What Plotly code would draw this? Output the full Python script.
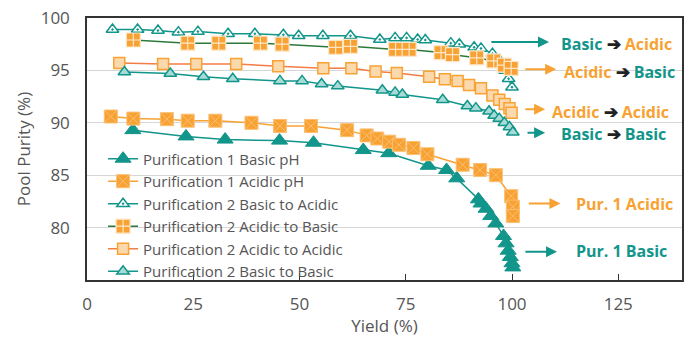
import plotly.graph_objects as go

TEAL = "#12958a"
ORANGE = "#f7a233"
GREEN = "#2b7a3b"
CORAL = "#f27d45"
GRAY = "#555555"

# Purification 1 Basic pH
p1b_x = [10.8, 23.3, 32.5, 45.3, 53.3, 65.0, 71.0, 80.3, 84.6, 87.0, 92.1, 92.7, 93.9, 95.0, 96.2,
         98.0, 98.6, 99.1, 99.6, 100.0, 100.2]
p1b_y = [89.3, 88.7, 88.4, 88.3, 88.1, 87.4, 87.1, 85.9, 85.5, 84.7, 82.7, 82.3, 81.8, 81.1, 80.4,
         79.2, 78.5, 77.8, 77.2, 76.6, 76.2]

# Purification 1 Acidic pH
p1a_x = [5.6, 10.9, 18.8, 23.7, 30.2, 38.7, 45.4, 52.7, 61.2, 65.8, 68.3, 71.1, 73.4, 76.8, 80.1,
         88.4, 92.5, 96.2, 99.8, 100.2, 100.2]
p1a_y = [90.6, 90.4, 90.35, 90.2, 90.2, 90.0, 89.7, 89.7, 89.3, 88.8, 88.5, 88.2, 87.9, 87.6, 87.0,
         86.0, 85.5, 85.0, 83.0, 82.0, 81.1]

# Purification 2 Basic to Acidic
ba_x = [6.0, 11.9, 16.7, 21.5, 26.1, 33.2, 39.5, 46.2, 49.8, 55.5, 62.0, 68.9, 72.5, 75.2, 77.8,
        79.6, 85.6, 87.6, 91.1, 92.7, 95.4, 97.0, 98.4, 99.2, 100.0]
ba_y = [98.9, 98.9, 98.8, 98.65, 98.7, 98.5, 98.5, 98.4, 98.3, 98.3, 98.3, 97.95, 98.1, 98.1, 97.95,
        97.9, 97.6, 97.5, 97.2, 97.1, 96.6, 96.0, 95.0, 94.2, 93.4]

# Purification 2 Acidic to Basic
ab_x = [10.9, 23.7, 31.0, 40.8, 45.9, 58.5, 62.0, 72.6, 75.8, 83.3, 86.0, 91.7, 95.7, 98.2, 99.8]
ab_y = [97.9, 97.6, 97.6, 97.6, 97.5, 97.2, 97.3, 97.0, 97.0, 96.7, 96.5, 96.2, 95.9, 95.5, 95.2]

# Purification 2 Acidic to Acidic
aa_x = [7.6, 17.9, 25.7, 35.1, 45.0, 55.6, 62.2, 67.9, 72.9, 80.5, 84.2, 87.2, 89.9, 92.7, 95.4,
        97.0, 98.3, 99.4, 99.9]
aa_y = [95.7, 95.6, 95.6, 95.6, 95.4, 95.2, 95.2, 94.9, 94.75, 94.4, 94.15, 94.0, 93.6, 93.3, 92.6,
        92.2, 91.8, 91.4, 90.95]

# Purification 2 Basic to Basic
bb_x = [8.8, 19.6, 27.4, 34.3, 45.4, 50.6, 55.2, 59.0, 69.5, 72.5, 74.2, 83.7, 89.5, 91.5, 94.6,
        95.8, 97.0, 98.2, 99.4, 100.2]
bb_y = [94.85, 94.7, 94.4, 94.2, 94.0, 94.0, 93.7, 93.5, 93.1, 92.9, 92.7, 92.2, 91.6, 91.4, 91.1,
        90.7, 90.4, 90.0, 89.6, 89.1]

x_ticks = [0, 25, 50, 75, 100, 125]
y_ticks = [80, 85, 90, 95, 100]

# annotation labels: (parts, arrow tail x, arrow head x, arrow y, text x, text y, arrow colour)
labels = [
    ([("Basic", TEAL), ("Acidic", ORANGE)], 94.8, 108.7, 97.7, 111.0, 97.6, TEAL),
    ([("Acidic", ORANGE), ("Basic", TEAL)], 102.8, 110.4, 95.1, 111.8, 94.9, ORANGE),
    ([("Acidic", ORANGE), ("Acidic", ORANGE)], 102.8, 107.8, 91.3, 109.0, 91.1, ORANGE),
    ([("Basic", TEAL), ("Basic", TEAL)], 103.3, 107.8, 89.05, 111.1, 89.0, TEAL),
]
pur_labels = [
    ("Pur. 1 Acidic", ORANGE, 103.6, 111.4, 82.3, 114.5, 82.3),
    ("Pur. 1 Basic", TEAL, 102.8, 110.6, 77.7, 114.5, 77.8),
]

fig = go.Figure()

fig.add_trace(go.Scatter(
    x=p1b_x, y=p1b_y, mode="lines+markers", name="Purification 1 Basic pH",
    line=dict(color=TEAL, width=1.5),
    marker=dict(symbol="triangle-up", size=14, color=TEAL, line=dict(color=TEAL, width=1))))
fig.add_trace(go.Scatter(
    x=p1a_x, y=p1a_y, mode="lines+markers", name="Purification 1 Acidic pH",
    line=dict(color=ORANGE, width=1.5),
    marker=dict(symbol="square-x", size=13, color=ORANGE, line=dict(color="#fbbf72", width=1))))
fig.add_trace(go.Scatter(
    x=ba_x, y=ba_y, mode="lines+markers", name="Purification 2 Basic to Acidic",
    line=dict(color=TEAL, width=1.5),
    marker=dict(symbol="triangle-up-dot", size=11, color="white", line=dict(color=TEAL, width=1.5))))
fig.add_trace(go.Scatter(
    x=ab_x, y=ab_y, mode="lines+markers", name="Purification 2 Acidic to Basic",
    line=dict(color=GREEN, width=1.5),
    marker=dict(symbol="square-cross", size=14, color=ORANGE, line=dict(color="#fde6c8", width=1.2))))
fig.add_trace(go.Scatter(
    x=aa_x, y=aa_y, mode="lines+markers", name="Purification 2 Acidic to Acidic",
    line=dict(color=CORAL, width=1.5),
    marker=dict(symbol="square", size=11, color="#fcd9ad", line=dict(color=ORANGE, width=1.5))))
fig.add_trace(go.Scatter(
    x=bb_x, y=bb_y, mode="lines+markers", name="Purification 2 Basic to Basic",
    line=dict(color=TEAL, width=1.5),
    marker=dict(symbol="triangle-up", size=11, color="#a8dbd6", line=dict(color=TEAL, width=1.5))))

ARROW = "<span style='color:#222222;font-size:17px'>➔</span>"
annotations = []
for parts, tail, head, ay, tx, ty, acol in labels:
    annotations.append(dict(x=head, y=ay, ax=tail, ay=ay, xref="x", yref="y", axref="x", ayref="y",
                            text="", showarrow=True, arrowhead=2, arrowsize=1.1, arrowwidth=2,
                            arrowcolor=acol))
    txt = ("<b><span style='color:%s'>%s</span> %s "
           "<span style='color:%s'>%s</span></b>") % (parts[0][1], parts[0][0], ARROW,
                                                      parts[1][1], parts[1][0])
    annotations.append(dict(x=tx, y=ty, xref="x", yref="y", text=txt, showarrow=False,
                            xanchor="left", yanchor="middle",
                            font=dict(family="Open Sans", size=16)))
for name, col, tail, head, ay, tx, ty in pur_labels:
    annotations.append(dict(x=head, y=ay, ax=tail, ay=ay, xref="x", yref="y", axref="x", ayref="y",
                            text="", showarrow=True, arrowhead=2, arrowsize=1.1, arrowwidth=2,
                            arrowcolor=col))
    annotations.append(dict(x=tx, y=ty, xref="x", yref="y", text="<b>%s</b>" % name, showarrow=False,
                            xanchor="left", yanchor="middle",
                            font=dict(family="Open Sans", size=16, color=col)))

fig.update_layout(
    width=689, height=337,
    margin=dict(l=87, r=7, t=18, b=57, autoexpand=False),
    paper_bgcolor="white", plot_bgcolor="white",
    font=dict(family="Open Sans", color=GRAY),
    showlegend=True,
    legend=dict(x=0.027, y=0.525, xanchor="left", yanchor="top", bgcolor="rgba(0,0,0,0)",
                font=dict(family="Open Sans", size=15, color=GRAY), borderwidth=0),
    annotations=annotations,
)
fig.update_xaxes(range=[0, 140], tickvals=x_ticks, ticktext=[str(v) for v in x_ticks],
                 showgrid=False, zeroline=False, showline=True, mirror=True, linecolor="#333333",
                 linewidth=1.5, ticks="inside", ticklen=6, tickcolor="#333333",
                 tickfont=dict(size=17, color=GRAY), ticklabelstandoff=8, automargin=False,
                 title=dict(text="Yield (%)", font=dict(size=17, color=GRAY), standoff=2))
fig.update_yaxes(range=[75, 100], tickvals=y_ticks, ticktext=[str(v) for v in y_ticks],
                 showgrid=True, gridcolor="#d6d6d6", gridwidth=1, zeroline=False, showline=True,
                 mirror=True, linecolor="#333333", linewidth=1.5, ticks="",
                 tickfont=dict(size=17, color=GRAY), ticklabelstandoff=12, automargin=False,
                 title=dict(text="Pool Purity (%)", font=dict(size=17, color=GRAY), standoff=6))

fig.write_html("out.html", config={"displayModeBar": False},
               post_script="document.body.style.margin='0px';document.body.style.overflow='hidden';")
